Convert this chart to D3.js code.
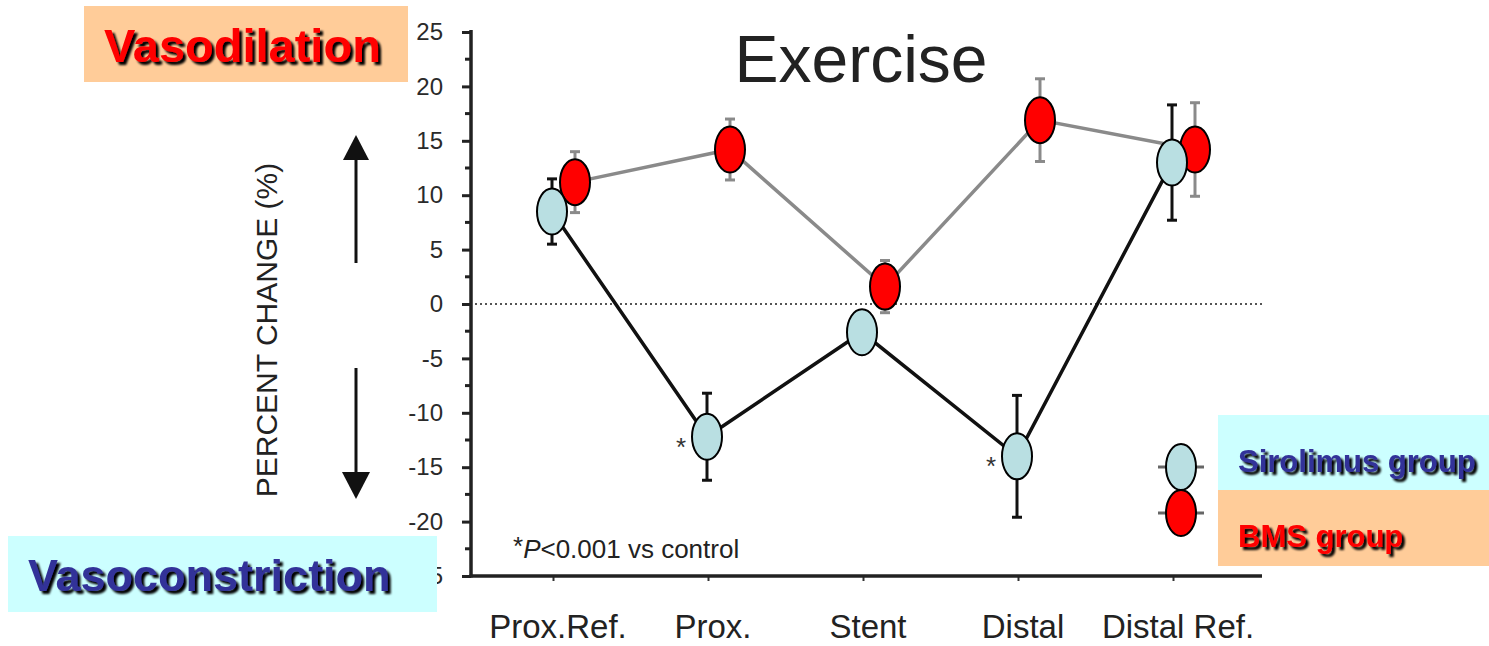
<!DOCTYPE html>
<html>
<head>
<meta charset="utf-8">
<script src="https://cdn.jsdelivr.net/npm/d3@7"></script>
<style>
  html, body { margin: 0; padding: 0; background: #fff; }
  svg { display: block; font-family: "Liberation Sans", Arial, sans-serif; }
</style>
</head>
<body>
<svg id="chart" width="1489" height="646"></svg>
<script>
// Coronary segment along the stented vessel
const categories = ["Prox.Ref.", "Prox.", "Stent", "Distal", "Distal Ref."];
// Percent change in diameter with exercise (mean, ± error)
const sirolimusMean = [8.5, -12.2, -2.6, -14.0, 13.0];
const sirolimusErr  = [3.0, 4.0, 1.5, 5.6, 5.3];
const bmsMean = [11.2, 14.2, 1.6, 16.9, 14.2];
const bmsErr  = [2.8, 2.8, 2.4, 3.8, 4.3];
// Significant vs control (marked with *)
const significant = ["Prox.", "Distal"];
// Y axis ticks
const yMajorTicks = [-25, -20, -15, -10, -5, 0, 5, 10, 15, 20, 25];
const yMinorTicks = [-22.5, -17.5, -12.5, -7.5, -2.5, 2.5, 7.5, 12.5, 17.5, 22.5];

const svg = d3.select("#chart");

// Soft drop shadow for the slide labels
const defs = svg.append("defs");
const f = defs.append("filter").attr("id", "shadow")
  .attr("x", "-5%").attr("y", "-10%").attr("width", "115%").attr("height", "140%");
f.append("feGaussianBlur").attr("in", "SourceAlpha").attr("stdDeviation", 1).attr("result", "blur");
f.append("feOffset").attr("in", "blur").attr("dx", 3).attr("dy", 3).attr("result", "off");
const merge = f.append("feMerge");
merge.append("feMergeNode").attr("in", "off");
merge.append("feMergeNode").attr("in", "SourceGraphic");

const plot = { left: 471, right: 1262, top: 32, bottom: 576 };
const y = d3.scaleLinear().domain([-25, 25]).range([plot.bottom, plot.top]);
const x = d3.scalePoint().domain(categories).range([553, 1173]);

const series = [
  { name: "Sirolimus group", mean: sirolimusMean, err: sirolimusErr, dx: -1,
    fill: "#b9dfe2", line: "#111", errColor: "#111" },
  { name: "BMS group", mean: bmsMean, err: bmsErr, dx: 22,
    fill: "#ff0000", line: "#8a8a8a", errColor: "#8a8a8a" }
];

// Title
svg.append("text")
  .attr("x", 861).attr("y", 82)
  .attr("text-anchor", "middle")
  .attr("font-size", 66)
  .attr("fill", "#222")
  .text("Exercise");

// Y axis
const yAxis = d3.axisLeft(y).tickValues(yMajorTicks).tickSize(9).tickPadding(19)
  .tickFormat(d => String(d));
const gy = svg.append("g").attr("transform", `translate(${plot.left},0)`).call(yAxis);
gy.select(".domain").remove();
gy.selectAll(".tick line").attr("stroke", "#222").attr("stroke-width", 3);
gy.selectAll(".tick text").attr("font-size", 24).attr("fill", "#2a2a2a")
  .attr("font-family", "Liberation Sans, Arial, sans-serif");
gy.selectAll(".minor").data(yMinorTicks).enter().append("line")
  .attr("x1", -6).attr("x2", 0)
  .attr("y1", d => y(d)).attr("y2", d => y(d))
  .attr("stroke", "#222").attr("stroke-width", 3);
svg.append("line")
  .attr("x1", plot.left).attr("x2", plot.left)
  .attr("y1", plot.top - 2).attr("y2", plot.bottom + 1.5)
  .attr("stroke", "#222").attr("stroke-width", 3.5);

// X axis
const xAxis = d3.axisBottom(x).tickSize(5).tickFormat("");
const gx = svg.append("g").attr("transform", `translate(0,${plot.bottom})`).call(xAxis);
gx.select(".domain").remove();
gx.selectAll(".tick line").attr("stroke", "#333").attr("stroke-width", 2);
svg.append("line")
  .attr("x1", plot.left - 1.5).attr("x2", plot.right)
  .attr("y1", plot.bottom).attr("y2", plot.bottom)
  .attr("stroke", "#222").attr("stroke-width", 3.5);
svg.append("g").selectAll("text").data(categories).enter().append("text")
  .attr("x", d => x(d) + 5)
  .attr("y", 638)
  .attr("text-anchor", "middle")
  .attr("font-size", 33)
  .attr("fill", "#222")
  .text(d => d);

// Zero reference line
svg.append("line")
  .attr("x1", plot.left + 4).attr("x2", plot.right)
  .attr("y1", y(0)).attr("y2", y(0))
  .attr("stroke", "#555").attr("stroke-width", 2)
  .attr("stroke-dasharray", "2,3");

// Y axis title and direction arrows
svg.append("text")
  .attr("transform", "translate(277,330) rotate(-90)")
  .attr("text-anchor", "middle")
  .attr("font-size", 30)
  .attr("fill", "#222")
  .text("PERCENT CHANGE (%)");

const arrows = svg.append("g").attr("fill", "#111").attr("stroke", "#111");
arrows.append("line").attr("x1", 356).attr("x2", 356).attr("y1", 150).attr("y2", 263).attr("stroke-width", 3);
arrows.append("path").attr("d", "M356,135 L343,160 L369,160 Z").attr("stroke", "none");
arrows.append("line").attr("x1", 356).attr("x2", 356).attr("y1", 368).attr("y2", 485).attr("stroke-width", 3);
arrows.append("path").attr("d", "M356,499 L342,472 L370,472 Z").attr("stroke", "none");

// Lines, error bars and points for each group (BMS drawn first, underneath)
const rx = 15, ry = 23;
[series[1], series[0]].forEach(s => {
  const pts = categories.map((c, i) => ({ c, m: s.mean[i], e: s.err[i] }));
  const g = svg.append("g");
  g.append("path")
    .datum(pts)
    .attr("fill", "none")
    .attr("stroke", s.line)
    .attr("stroke-width", 3.5)
    .attr("d", d3.line().x(d => x(d.c) + s.dx).y(d => y(d.m)));
  const eb = g.selectAll(".err").data(pts).enter().append("g")
    .attr("stroke", s.errColor).attr("stroke-width", 3);
  eb.append("line")
    .attr("x1", d => x(d.c) + s.dx).attr("x2", d => x(d.c) + s.dx)
    .attr("y1", d => y(d.m + d.e)).attr("y2", d => y(d.m - d.e));
  eb.append("line")
    .attr("x1", d => x(d.c) + s.dx - 5).attr("x2", d => x(d.c) + s.dx + 5)
    .attr("y1", d => y(d.m + d.e)).attr("y2", d => y(d.m + d.e));
  eb.append("line")
    .attr("x1", d => x(d.c) + s.dx - 5).attr("x2", d => x(d.c) + s.dx + 5)
    .attr("y1", d => y(d.m - d.e)).attr("y2", d => y(d.m - d.e));
  g.selectAll("ellipse").data(pts).enter().append("ellipse")
    .attr("cx", d => x(d.c) + s.dx)
    .attr("cy", d => y(d.m))
    .attr("rx", rx).attr("ry", ry)
    .attr("fill", s.fill)
    .attr("stroke", "#000").attr("stroke-width", 2);
});

// Significance markers
svg.append("g").selectAll("text").data(significant).enter().append("text")
  .attr("x", d => x(d) - 27)
  .attr("y", d => y(sirolimusMean[categories.indexOf(d)]) + 19)
  .attr("text-anchor", "middle")
  .attr("font-size", 26)
  .attr("fill", "#333")
  .text("*");

// Footnote
const foot = svg.append("text").attr("x", 513).attr("y", 558).attr("font-size", 26).attr("fill", "#222");
foot.append("tspan").attr("font-size", 26).attr("dy", -3).text("*");
foot.append("tspan").attr("dy", 3).attr("font-style", "italic").text("P");
foot.append("tspan").text("<0.001 vs control");

// Bold label with a soft shadow
function shadowText(tx, ty, str, color, size) {
  svg.append("text").attr("x", tx).attr("y", ty)
    .attr("font-size", size).attr("font-weight", "bold").attr("fill", color)
    .attr("filter", "url(#shadow)")
    .text(str);
}

// Direction labels
svg.append("rect").attr("x", 84).attr("y", 6).attr("width", 324).attr("height", 76).attr("fill", "#ffcc99");
shadowText(104, 62, "Vasodilation", "#ff0000", 47);
svg.append("rect").attr("x", 8).attr("y", 536).attr("width", 429).attr("height", 76).attr("fill", "#ccffff");
shadowText(28, 591, "Vasoconstriction", "#333399", 45);

// Legend
const legend = [
  { s: series[0], boxFill: "#ccffff", textColor: "#333399", y0: 415, cy: 467, ty: 472 },
  { s: series[1], boxFill: "#ffcc99", textColor: "#ff0000", y0: 490, cy: 513, ty: 547 }
];
legend.forEach(l => {
  svg.append("rect").attr("x", 1218).attr("y", l.y0).attr("width", 271).attr("height", 76).attr("fill", l.boxFill);
  svg.append("line").attr("x1", 1158).attr("x2", 1204).attr("y1", l.cy).attr("y2", l.cy)
    .attr("stroke", "#666").attr("stroke-width", 3);
});
legend.forEach(l => {
  svg.append("ellipse").attr("cx", 1181).attr("cy", l.cy).attr("rx", rx).attr("ry", ry)
    .attr("fill", l.s.fill).attr("stroke", "#000").attr("stroke-width", 2);
});
legend.forEach(l => shadowText(1238, l.ty, l.s.name, l.textColor, 31));
</script>
</body>
</html>
